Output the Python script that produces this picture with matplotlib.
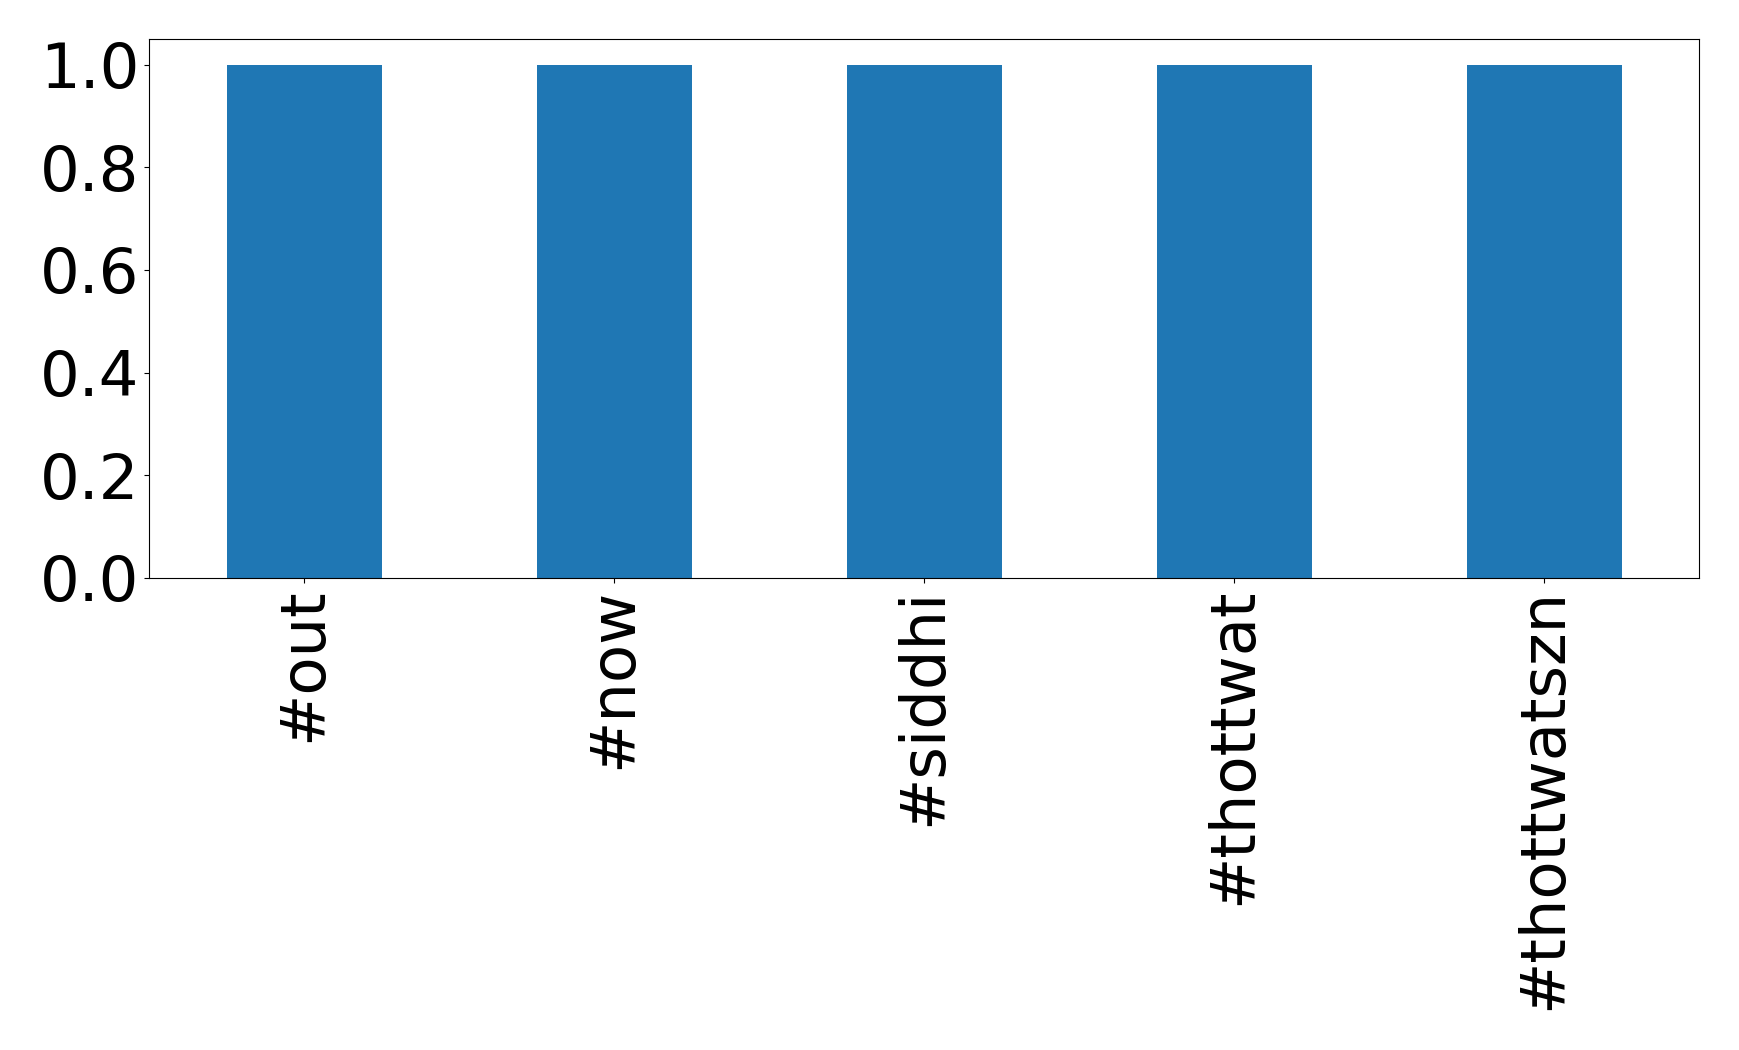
import matplotlib
matplotlib.use("Agg")
import matplotlib.pyplot as plt

categories = ["#out", "#now", "#siddhi", "#thottwat", "#thottwatszn"]
values = [1, 1, 1, 1, 1]

fig = plt.figure(figsize=(17.39, 10.5), dpi=100)
ax = fig.add_axes([149/1739, 1 - 578/1050, (1699-149)/1739, (578-39)/1050])
x = range(len(categories))
ax.bar(x, values, width=0.5, color="#1f77b4", linewidth=0)
ax.set_xlim(-0.5, len(categories) - 0.5)
ax.set_ylim(0, 1.05)
ax.set_xticks(list(x))
ax.set_xticklabels(categories, rotation=90, fontsize=45)
ax.set_yticks([0.0, 0.2, 0.4, 0.6, 0.8, 1.0])
ax.set_yticklabels(["0.0", "0.2", "0.4", "0.6", "0.8", "1.0"], fontsize=45)
fig.savefig("out.png", dpi=100)
